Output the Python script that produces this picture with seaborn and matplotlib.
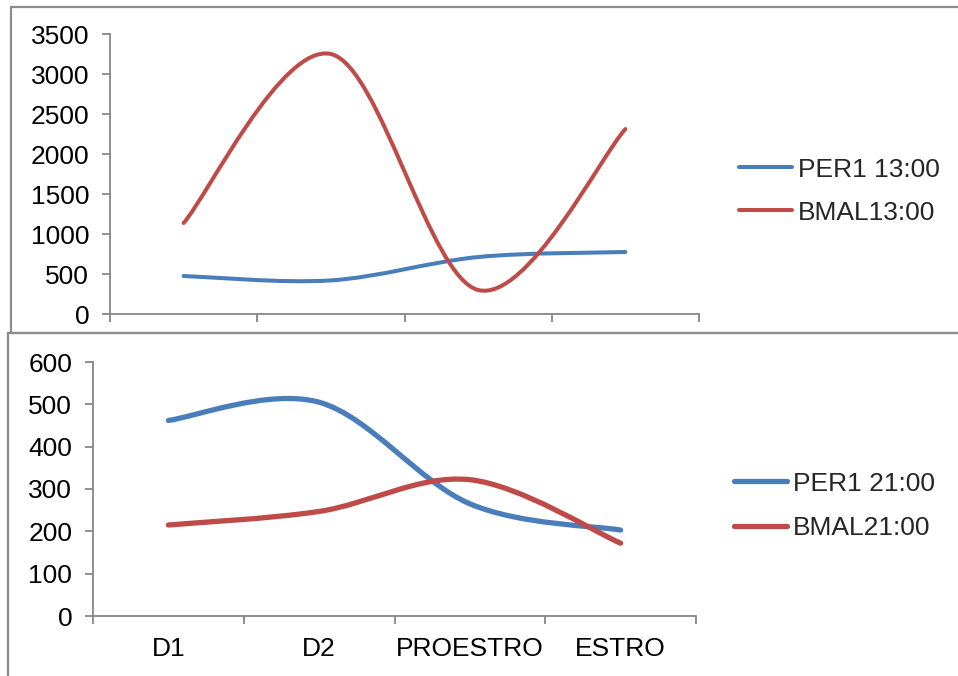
import numpy as np
import pandas as pd
import seaborn as sns
import matplotlib
matplotlib.use("Agg")
import matplotlib.pyplot as plt
from matplotlib.path import Path
from matplotlib.patches import PathPatch, Rectangle
from matplotlib.lines import Line2D

# ---- data ----
categories = ["D1", "D2", "PROESTRO", "ESTRO"]
per1_1300 = [475, 420, 712, 775]
bmal_1300 = [1137, 3250, 300, 2312]
per1_2100 = [462, 505, 265, 203]
bmal_2100 = [215, 247, 322, 172]
top_yticks = [0, 500, 1000, 1500, 2000, 2500, 3000, 3500]
bottom_yticks = [0, 100, 200, 300, 400, 500, 600]
top_labels = ["PER1 13:00", "BMAL13:00"]
bottom_labels = ["PER1 21:00", "BMAL21:00"]

BLUE = "#4a7ebb"
RED = "#be4b48"
GRAY = "#868686"
FS = 19

sns.set_theme(style="white")
plt.rcParams["font.family"] = ["Liberation Sans", "DejaVu Sans"]

W, H = 958, 676
fig = plt.figure(figsize=(W / 100, H / 100), dpi=100)


def fx(px):
    return px / W


def fy(py):
    return 1 - py / H


def smooth_path(ys):
    xs = np.arange(len(ys), dtype=float)
    pts = np.column_stack([xs, np.asarray(ys, dtype=float)])
    n = len(pts)
    verts = [pts[0]]
    codes = [Path.MOVETO]
    for i in range(n - 1):
        p0 = pts[i - 1] if i > 0 else pts[i]
        p1 = pts[i]
        p2 = pts[i + 1]
        p3 = pts[i + 2] if i + 2 < n else pts[i + 1]
        c1 = p1 + (p2 - p0) / 6.0
        c2 = p2 - (p3 - p1) / 6.0
        verts += [c1, c2, p2]
        codes += [Path.CURVE4] * 3
    return Path(np.array(verts), codes)


def style_axes(ax, yticks, show_cats):
    ax.set_xlim(-0.5, len(categories) - 0.5)
    ax.set_ylim(yticks[0], yticks[-1])
    sns.despine(ax=ax)
    for s in ["left", "bottom"]:
        ax.spines[s].set_color(GRAY)
        ax.spines[s].set_linewidth(1.3)
    ax.set_yticks(yticks)
    ax.set_yticklabels([str(v) for v in yticks])
    ax.set_xticks(np.arange(len(categories) + 1) - 0.5)
    ax.set_xticklabels([])
    ax.tick_params(axis="both", which="major", direction="out", length=6,
                   width=1.3, color=GRAY, labelsize=FS, labelcolor="black",
                   left=True, bottom=True)
    ax.tick_params(axis="y", which="major", pad=9)
    if show_cats:
        ax.set_xticks(np.arange(len(categories)), minor=True)
        ax.set_xticklabels(categories, minor=True)
        ax.tick_params(axis="x", which="minor", length=0, labelsize=FS,
                       labelcolor="black", pad=15)
    ax.grid(False)
    ax.set_facecolor("white")


def draw(ax, series, colors, lw):
    for ys, c in zip(series, colors):
        patch = PathPatch(smooth_path(ys), facecolor="none", edgecolor=c,
                          linewidth=lw, capstyle="round", joinstyle="round",
                          transform=ax.transData, clip_on=False)
        ax.add_patch(patch)


# panel borders
fig.patches.append(Rectangle((fx(11), fy(333)), fx(960) - fx(11), fy(7) - fy(333),
                             transform=fig.transFigure, fill=False,
                             edgecolor="#8c8c8c", linewidth=1.6))
fig.patches.append(Rectangle((fx(8), fy(690)), fx(960) - fx(8), fy(333) - fy(690),
                             transform=fig.transFigure, fill=False,
                             edgecolor="#8c8c8c", linewidth=1.6))

# top panel
ax1 = fig.add_axes([fx(110), fy(314), fx(699) - fx(110), fy(34) - fy(314)])
style_axes(ax1, top_yticks, False)
draw(ax1, [per1_1300, bmal_1300], [BLUE, RED], 2.9)
h1 = [Line2D([], [], color=BLUE, lw=2.9, solid_capstyle="round"),
      Line2D([], [], color=RED, lw=2.9, solid_capstyle="round")]
fig.legend(h1, top_labels, loc="center left", bbox_to_anchor=(fx(739), fy(191)),
           frameon=False, fontsize=FS, handlelength=2.0, handletextpad=0.22,
           labelspacing=0.72, borderpad=0, borderaxespad=0)

# bottom panel
ax2 = fig.add_axes([fx(93), fy(616), fx(696) - fx(93), fy(362) - fy(616)])
style_axes(ax2, bottom_yticks, True)
draw(ax2, [per1_2100, bmal_2100], [BLUE, RED], 3.8)
h2 = [Line2D([], [], color=BLUE, lw=3.8, solid_capstyle="round"),
      Line2D([], [], color=RED, lw=3.8, solid_capstyle="round")]
fig.legend(h2, bottom_labels, loc="center left", bbox_to_anchor=(fx(734), fy(506)),
           frameon=False, fontsize=FS, handlelength=2.0, handletextpad=0.22,
           labelspacing=0.78, borderpad=0, borderaxespad=0)

fig.savefig("out.png", dpi=100, facecolor="white")
